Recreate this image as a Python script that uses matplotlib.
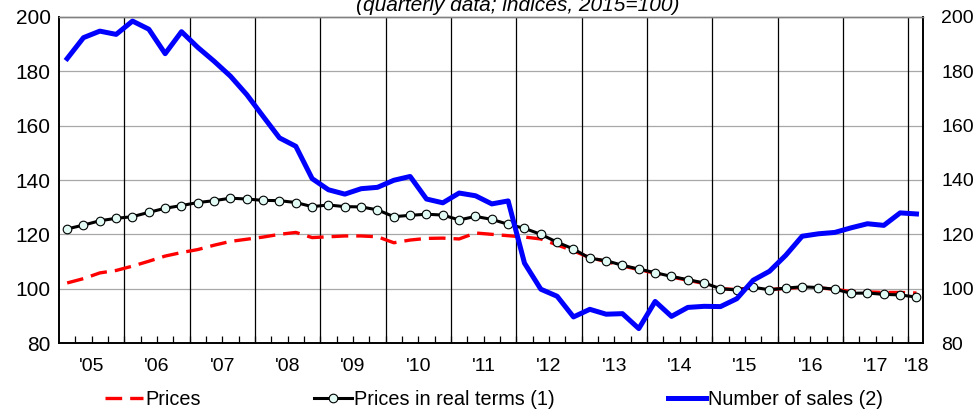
import numpy as np
import matplotlib
matplotlib.use("Agg")
import matplotlib.pyplot as plt
from matplotlib.ticker import FixedLocator

plt.rcParams['font.family'] = ['Liberation Sans', 'DejaVu Sans']

# quarterly data 2005Q1 - 2018Q1 (indices, 2015=100)
years = ["'05", "'06", "'07", "'08", "'09", "'10", "'11", "'12",
         "'13", "'14", "'15", "'16", "'17", "'18"]

prices = [102.1, 103.7, 105.8, 106.7, 108.3, 110.1, 112.0, 113.3, 114.4, 116.0,
          117.4, 118.2, 119.0, 120.0, 120.7, 118.8, 119.1, 119.4, 119.4, 119.1,
          116.9, 117.9, 118.5, 118.6, 118.3, 120.5, 120.0, 119.5, 119.0, 118.3,
          116.1, 113.9, 111.4, 110.0, 108.4, 107.0, 105.7, 104.3, 103.1, 101.9,
          100.0, 99.7, 100.4, 99.7, 100.1, 100.5, 100.3, 99.8, 98.9, 98.8,
          98.6, 98.6, 98.4]

real_prices = [122.0, 123.4, 125.0, 125.9, 126.5, 128.1, 129.6, 130.6, 131.7, 132.4,
               133.3, 133.0, 132.5, 132.4, 131.7, 130.2, 130.8, 130.2, 130.1, 129.0,
               126.5, 127.0, 127.4, 127.1, 125.3, 126.6, 125.5, 123.7, 122.2, 120.0,
               117.1, 114.6, 111.2, 110.3, 108.6, 107.2, 105.9, 104.5, 103.3, 102.1,
               100.0, 99.5, 100.5, 99.6, 100.2, 100.7, 100.4, 99.8, 98.3, 98.4,
               97.9, 97.7, 96.9]

sales = [184.7, 192.4, 194.8, 193.6, 198.5, 195.5, 186.5, 194.6, 188.8, 183.7,
         178.2, 171.4, 163.4, 155.5, 152.4, 140.5, 136.4, 134.8, 136.8, 137.3,
         139.9, 141.3, 133.0, 131.6, 135.2, 134.2, 131.2, 132.3, 109.4, 99.8,
         97.2, 89.6, 92.4, 90.6, 90.8, 85.3, 95.3, 89.8, 93.1, 93.5,
         93.4, 96.3, 103.1, 106.4, 112.3, 119.3, 120.2, 120.7, 122.4, 123.9,
         123.3, 127.9, 127.5]

n = len(prices)
x = np.arange(n)

fig = plt.figure(figsize=(9.77, 4.11), dpi=100)
ax = fig.add_axes([59/977, 68/411, 864/977, 326/411])

ax.set_xlim(-0.5, n - 0.6)
ax.set_ylim(80, 200)

# horizontal grid + vertical year separators
for v in range(100, 200, 20):
    ax.axhline(v, color='#a8a8a8', lw=0.9, zorder=1)
for b in np.arange(3.5, n - 1, 4):
    ax.axvline(b, color='black', lw=0.9, zorder=1)

ax.plot(x, real_prices, color='black', lw=2.2, marker='o', ms=6.2,
        mfc='#e2fbf4', mec='black', mew=0.8, zorder=3,
        label='Prices in real terms (1)')
ax.plot(x, prices, color='#ff0000', lw=2.4, dashes=(5, 2.4), zorder=2.5,
        label='Prices')
ax.plot(x, sales, color='#0000ff', lw=3.6, zorder=4,
        label='Number of sales (2)')

# y axes
ax.set_yticks(range(80, 201, 20))
ax.tick_params(axis='y', length=0, pad=6, labelsize=15)
ax2 = ax.twinx()
ax2.set_ylim(80, 200)
ax2.set_yticks(range(80, 201, 20))
ax2.tick_params(axis='y', length=0, pad=13, labelsize=14)

# x axis: quarter marks and year labels
label_pos = []
for k in range(len(years)):
    last = min(4 * k + 3, n - 1)
    label_pos.append((4 * k + last) / 2)
ax.set_xticks(label_pos)
ax.set_xticklabels(years)
ax.xaxis.remove_overlapping_locs = False
ax.xaxis.set_minor_locator(FixedLocator(np.arange(0.5, n - 1, 1)))
ax.tick_params(axis='x', which='major', length=0, pad=11, labelsize=14)
ax.tick_params(axis='x', which='minor', direction='in', length=5, width=0.9)

for a in (ax, ax2):
    for s in ['left', 'right', 'bottom']:
        a.spines[s].set_color('black')
        a.spines[s].set_linewidth(1.2)
    a.spines['top'].set_color('#808080')
    a.spines['top'].set_linewidth(1.0)

fig.text(518/977, 1 - 11/411, '(quarterly data; indices, 2015=100)',
         ha='center', va='baseline', fontsize=15, style='italic')

h, l = ax.get_legend_handles_labels()
order = [1, 0, 2]
fig.legend([h[i] for i in order], [l[i] for i in order], ncol=3,
           loc='center left', bbox_to_anchor=(105/977, 1 - 399/411),
           frameon=False, fontsize=14.3, handlelength=1.9, handletextpad=0.12,
           columnspacing=5.7, borderpad=0, borderaxespad=0)

fig.savefig('out.png', dpi=100)
